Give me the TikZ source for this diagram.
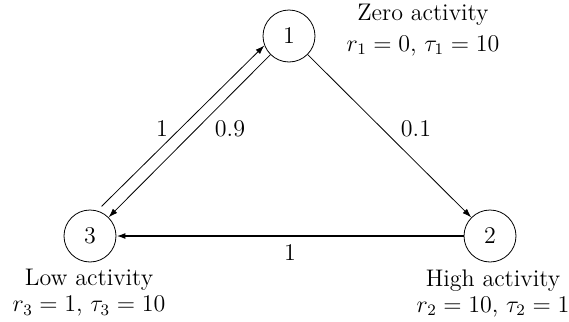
\documentclass[tikz,border=0pt]{standalone}
\usetikzlibrary{arrows.meta}

\tikzset{
  statenode/.style={draw,circle,minimum size=26pt,inner sep=0pt},
  trans/.style={-{Latex[length=4.5pt,width=3pt]},thin},
  infotext/.style={align=center}
}

\begin{document}
\begin{tikzpicture}[x=0.5pt,y=-0.5pt,font=\large]
\useasboundingbox (0,0) rectangle (569,322);

\node[statenode] (n1) at (289,36) {1};
\node[statenode] (n2) at (490,236) {2};
\node[statenode] (n3) at (90,236) {3};

\node[infotext] (zero) at (423,30) {Zero activity\\[1.5pt] $r_1=0$, $\tau_1=10$};
\node[infotext] (high) at (493,293) {High activity\\[-1pt] $r_2=10$, $\tau_2=1$};
\node[infotext] (low) at (89,293) {Low activity\\[-1pt] $r_3=1$, $\tau_3=10$};

\draw[trans,shorten <=3pt] (n3.74) -- (n1.201);
\draw[trans] (n1) -- (n3);
\draw[trans] (n1) -- (n2);
\draw[trans,thick] (n2) -- (n3);

\node (p31) at (162,129) {1};
\node (p13) at (230,129) {0.9};
\node (p12) at (416,129) {0.1};
\node (p23) at (290,253) {1};
\end{tikzpicture}
\end{document}
